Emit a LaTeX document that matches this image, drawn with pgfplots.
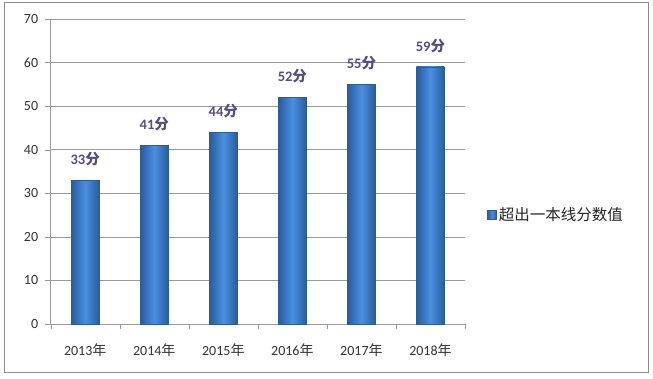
\documentclass[border=0pt]{standalone}
\usepackage{pgfplots}
\pgfplotsset{compat=1.18}
\usepackage{fontspec}
\setmainfont{Carlito}
\newfontfamily\cjk{Noto Sans CJK SC}
\definecolor{barmid}{HTML}{4A90E0}
\definecolor{baredge}{HTML}{2A5C9C}
\definecolor{labcol}{HTML}{5B4B85}
\definecolor{gridc}{HTML}{9A9A9A}
\definecolor{txt}{HTML}{333333}
\begin{document}
\begin{tikzpicture}[x=1pt,y=1pt]
\path[fill=white] (0,0) rectangle (653,378);
\draw[color=gray!90, line width=0.8pt] (4,5.5) rectangle (648,375.5);
\begin{axis}[
  at={(50.7pt,54pt)}, anchor=south west,
  scale only axis, width=414.3pt, height=305pt,
  xmin=-0.5, xmax=5.5, ymin=0, ymax=70,
  ytick={0,10,...,70},
  xtick={0,...,5},
  xticklabels={{2013{\cjk 年}},{2014{\cjk 年}},{2015{\cjk 年}},{2016{\cjk 年}},{2017{\cjk 年}},{2018{\cjk 年}}},
  minor xtick={-0.5,0.5,...,5.5},
  major tick length=6pt, minor tick length=5pt,
  tick align=outside,
  x tick style={draw=none},
  minor x tick style={draw=gridc},
  y tick style={draw=gridc},
  axis x line*=bottom, axis y line*=left,
  axis line style={draw=gridc, line width=0.6pt, -},
  ymajorgrids, grid style={draw=gridc, line width=0.6pt},
  /pgf/number format/assume math mode=true,
  tick label style={font=\fontsize{14}{16}\selectfont, text=txt},
  xticklabel style={yshift=-10pt},
  yticklabel style={xshift=-3pt},
  legend style={at={(1.053,0.357)}, anchor=west, draw=none, fill=none,
    font=\cjk\fontsize{15.5}{17}\selectfont, text=black!85,
    inner sep=0pt},
  legend image code/.code={\draw[left color=baredge, right color=baredge, middle color=barmid, draw=baredge, line width=0.6pt] (0pt,-4.5pt) rectangle (9pt,4.5pt);},
  mybar/.style={ybar, bar width=28pt, bar shift=0pt, left color=baredge, right color=baredge, middle color=barmid, draw=baredge, line width=0.5pt},
  nodes near coords={\bfseries\pgfmathprintnumber{\pgfplotspointmeta}{\cjk 分}},
  every node near coord/.append style={anchor=center, yshift=21pt, text=labcol, font=\fontsize{14.5}{16}\selectfont},
]
\addplot[mybar] coordinates {(0,33)};
\addlegendentry{超出一本线分数值}
\addplot[mybar, forget plot] coordinates {(1,41)};
\addplot[mybar, forget plot] coordinates {(2,44)};
\addplot[mybar, forget plot] coordinates {(3,52)};
\addplot[mybar, forget plot] coordinates {(4,55)};
\addplot[mybar, forget plot] coordinates {(5,59)};
\end{axis}
\end{tikzpicture}
\end{document}
